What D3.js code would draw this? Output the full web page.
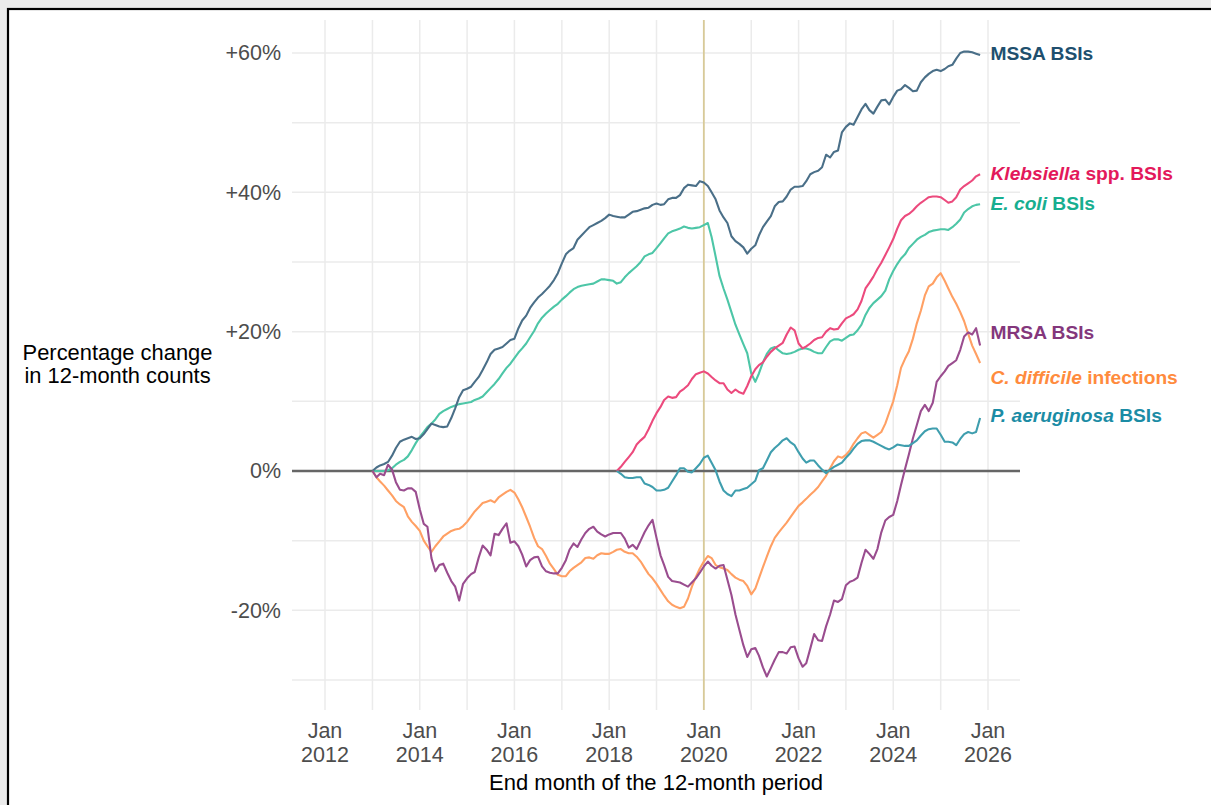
<!DOCTYPE html>
<html><head><meta charset="utf-8">
<script src="https://cdn.jsdelivr.net/npm/d3@7"></script>
<style>
html,body{margin:0;padding:0;background:#ebebeb;overflow:hidden;}
svg{display:block;font-family:"Liberation Sans",Arial,sans-serif;}
</style></head><body>
<svg id="chart" width="1211" height="805"></svg>
<script>
// ---------------- DATA ----------------
// Monthly percentage change in 12-month counts (end month of 12-month period)
const mssaStart = "2013-01";
const mssa = [0,0.5,0.8,1.0,1.3,2.2,3.3,4.2,4.5,4.7,
4.9,4.6,4.7,5.3,6.0,6.8,6.6,6.4,6.3,6.4,
7.6,9.0,10.6,11.6,11.8,12.1,12.8,13.5,14.5,15.6,
16.8,17.4,17.6,17.8,18.3,18.8,19.0,20.5,21.6,22.3,
23.4,24.2,24.9,25.4,26.0,26.6,27.4,28.4,29.8,31.1,
31.6,32.0,33.2,33.8,34.4,35.0,35.3,35.6,35.9,36.3,
36.8,36.6,36.5,36.4,36.4,36.8,37.2,37.3,37.5,37.7,
37.8,38.2,38.4,38.2,38.3,39.0,39.2,39.2,39.6,40.6,
41.1,41.0,40.9,41.6,41.4,40.9,40.0,39.0,37.4,36.4,
35.6,33.7,33.0,32.6,32.1,31.2,31.9,32.4,33.8,35.0,
35.8,36.6,38.0,38.6,38.7,39.4,40.4,40.8,40.8,40.9,
41.6,42.6,42.9,43.1,43.6,45.4,45.0,45.8,46.0,48.6,
49.4,49.9,49.7,50.8,51.9,52.7,51.8,51.3,52.3,53.2,
53.3,52.6,53.7,54.6,54.8,55.4,55.0,54.5,54.6,55.8,
56.5,57.0,57.4,57.6,57.4,57.7,58.1,58.3,59.2,60.0,
60.2,60.2,60.1,59.9,59.7];

const ecoliStart = "2013-01";
const ecoli = [0,0,0,0,0.1,0.4,0.9,1.3,1.6,2.1,
3.0,4.0,4.9,5.6,6.3,6.8,7.4,8.2,8.6,8.9,
9.2,9.4,9.6,9.7,9.8,9.9,10.2,10.4,10.7,11.3,
11.9,12.5,13.2,14.0,14.8,15.4,16.2,17.0,17.6,18.3,
19.2,20.1,21.2,22.0,22.6,23.1,23.6,24.0,24.6,25.1,
25.6,26.1,26.4,26.6,26.7,26.8,26.9,27.2,27.5,27.5,
27.4,27.3,26.9,27.1,27.8,28.4,28.9,29.4,30.0,30.8,
31.1,31.3,32.0,32.7,33.4,34.1,34.4,34.6,34.8,35.1,
34.9,34.8,34.9,35.0,35.3,35.6,33.6,30.8,28.0,26.2,
24.6,22.8,21.0,19.6,18.2,16.9,14.0,12.8,14.0,15.6,
16.8,17.6,17.8,17.3,16.9,16.8,16.9,17.1,17.4,17.6,
17.6,17.4,17.1,16.9,16.9,17.8,18.6,18.9,18.9,18.7,
19.1,19.5,19.6,20.2,21.0,22.4,23.4,24.1,24.6,25.1,
25.9,27.5,28.7,29.7,30.5,31.1,32.0,32.6,33.2,33.6,
33.9,34.3,34.5,34.6,34.7,34.7,34.6,35.0,35.5,36.1,
37.1,37.6,38.0,38.2,38.3];

const mrsaStart = "2013-01";
const mrsa = [0,-0.9,-0.4,-0.6,0.9,0.2,-1.6,-2.7,-2.8,-2.5,
-2.5,-3.0,-5.5,-7.6,-8.0,-12.5,-14.4,-13.5,-13.3,-14.6,
-15.8,-16.6,-18.6,-16.2,-15.4,-14.8,-14.5,-12.4,-10.7,-11.3,
-12.1,-9.0,-9.2,-8.3,-7.5,-10.3,-10.1,-10.8,-12.0,-13.7,
-12.8,-12.4,-12.3,-13.7,-14.4,-14.6,-14.7,-14.7,-13.9,-12.8,
-11.3,-10.4,-10.9,-9.8,-8.9,-8.3,-8.0,-8.7,-9.1,-9.4,
-9.1,-8.9,-8.9,-8.9,-9.7,-11.0,-10.6,-11.2,-10.0,-8.8,
-7.8,-7.0,-9.6,-12.1,-13.5,-15.2,-15.8,-15.9,-16.0,-16.3,
-16.6,-16.0,-15.4,-14.6,-13.7,-13.0,-13.6,-14.0,-13.6,-13.5,
-15.6,-17.8,-20.6,-22.8,-25.0,-26.7,-25.6,-25.4,-26.5,-28.2,
-29.5,-28.3,-27.1,-26.0,-26.0,-26.2,-25.3,-25.2,-26.9,-28.1,
-27.6,-25.5,-23.4,-24.3,-24.4,-22.3,-20.6,-18.6,-18.8,-18.4,
-16.4,-15.9,-15.7,-15.3,-13.2,-11.3,-11.9,-12.6,-11.2,-8.8,
-7.1,-6.6,-6.3,-4.3,-2.0,0.3,2.4,4.7,6.6,8.6,
9.5,8.6,9.8,12.8,13.6,14.3,15.1,15.5,15.9,17.4,
19.3,19.9,19.6,20.5,18.0];

const cdiffStart = "2013-01";
const cdiff = [0,-0.9,-1.5,-2.1,-2.8,-3.5,-4.3,-4.8,-5.2,-6.5,
-7.3,-7.9,-8.6,-10.0,-10.8,-11.6,-10.8,-10.1,-9.4,-9.0,
-8.6,-8.4,-8.3,-7.9,-7.3,-6.5,-5.8,-5.2,-4.6,-4.4,
-4.2,-4.5,-3.8,-3.4,-3.0,-2.7,-3.1,-4.1,-5.2,-6.6,
-8.0,-9.6,-10.8,-11.2,-12.2,-13.3,-14.1,-14.9,-15.1,-15.1,
-14.4,-13.9,-13.5,-13.1,-12.5,-12.4,-12.6,-12.1,-11.8,-11.9,
-11.9,-11.6,-11.3,-11.2,-11.6,-11.8,-11.8,-12.3,-13.0,-13.9,
-14.8,-15.4,-16.2,-17.1,-17.9,-18.7,-19.2,-19.5,-19.7,-19.5,
-18.3,-16.6,-15.2,-14.0,-13.0,-12.2,-12.5,-13.5,-13.8,-14.0,
-14.2,-14.8,-15.3,-15.6,-15.8,-16.5,-17.7,-16.9,-15.4,-13.8,
-12.3,-10.8,-9.6,-8.8,-8.1,-7.4,-6.6,-5.8,-5.0,-4.5,
-4.0,-3.4,-2.9,-2.3,-1.5,-0.7,0.4,1.4,2.1,1.9,
2.3,3.0,3.9,4.7,5.4,5.6,5.2,4.8,5.2,5.6,
6.8,8.4,10.0,12.3,14.8,16.1,17.2,19.0,21.2,23.0,
25.2,26.5,26.9,27.8,28.4,27.3,26.2,25.0,24.0,22.8,
21.5,19.7,18.0,16.8,15.5];

const klebStart = "2018-03";
const kleb = [0,0.6,1.3,2.0,2.7,3.8,4.4,4.9,6.0,7.2,
8.3,9.2,10.2,10.7,10.5,10.6,11.4,11.8,12.3,13.2,
13.9,14.1,14.3,14.0,13.5,13.0,12.6,12.6,11.7,11.2,
11.7,11.3,11.1,12.2,13.6,14.6,15.2,15.6,16.4,17.1,
17.6,18.0,18.4,19.6,20.6,20.2,18.3,17.6,17.9,18.3,
18.8,19.1,19.2,20.0,20.5,20.3,20.4,21.2,21.9,22.2,
22.5,23.2,24.4,26.2,27.0,27.9,29.0,29.9,31.0,32.1,
33.3,34.8,36.0,36.6,36.9,37.4,38.0,38.5,38.9,39.3,
39.4,39.4,39.3,38.9,38.5,38.7,39.3,40.4,40.9,41.3,
41.7,42.3,42.6];

const paerStart = "2018-03";
const paer = [0,-0.4,-0.9,-1.0,-1.0,-0.9,-0.9,-1.8,-2.0,-2.3,
-2.8,-2.8,-2.7,-2.4,-1.5,-0.6,0.4,0.4,-0.1,-0.2,
0.4,1.0,1.9,2.2,1.2,0.1,-1.5,-2.8,-3.3,-3.6,
-2.8,-2.8,-2.6,-2.4,-1.9,-1.4,0.1,0.4,1.5,2.7,
3.3,3.8,4.4,4.7,4.1,3.7,2.7,1.8,1.2,1.5,
1.5,0.8,0.2,-0.3,0.2,0.6,0.9,1.2,1.9,2.5,
3.2,3.9,4.3,4.4,4.4,4.2,3.9,3.6,3.3,3.1,
3.4,3.8,3.7,3.6,3.6,4.0,4.4,5.1,5.7,6.0,
6.1,6.1,5.2,4.2,4.2,4.1,3.7,4.6,5.3,5.6,
5.4,5.6,7.6];

// label text parts [italic part, regular part] and label vertical position (value units)
const labelItalic = ["", "Klebsiella", "E. coli", "", "C. difficile", "P. aeruginosa"];
const labelPlain  = ["MSSA BSIs", " spp. BSIs", " BSIs", "MRSA BSIs", " infections", " BSIs"];
const labelValue  = [59.9, 42.8, 38.5, 19.9, 13.5, 8.0];

const yTicks = [-20, 0, 20, 40, 60];
const yGrid = [-30, -20, -10, 0, 10, 20, 30, 40, 50, 60];
const xTickYears = [2012, 2014, 2016, 2018, 2020, 2022, 2024, 2026];
const xGridYears = d3.range(2012, 2027);
const markerDate = "2020-01";

const yTitle = ["Percentage change", "in 12-month counts"];
const xTitle = "End month of the 12-month period";

// ---------------- STYLE ----------------
const lineColors = ["#4a6f88", "#ec4a7d", "#4dc6a7", "#9a4d8f", "#ffa064", "#3f9eae"];
const textColors = ["#204f6e", "#e3195b", "#17ae90", "#84377c", "#ff8b3d", "#1b8ca5"];

const parse = d3.timeParse("%Y-%m");
function build(start, vals) {
  const s = parse(start);
  return vals.map((v, i) => ({date: d3.timeMonth.offset(s, i), value: v}));
}
const series = [
  build(mssaStart, mssa), build(klebStart, kleb), build(ecoliStart, ecoli),
  build(mrsaStart, mrsa), build(cdiffStart, cdiff), build(paerStart, paer)
];
const drawOrder = [2, 0, 1, 4, 3, 5];

const svg = d3.select("#chart");
const panel = {left: 292, right: 1020, top: 20, bottom: 710};

// frame
svg.append("rect").attr("x", 8).attr("y", 9).attr("width", 1300).attr("height", 900)
  .attr("fill", "#fff").attr("stroke", "#000").attr("stroke-width", 2.2);

const x = d3.scaleTime().domain([new Date(2012, 0, 1), new Date(2026, 0, 1)]).range([325, 988]);
const y = d3.scaleLinear().domain([0, 60]).range([471, 53]);

const g = svg.append("g");
// grid
g.selectAll(".hg").data(yGrid).join("line")
  .attr("x1", panel.left).attr("x2", panel.right)
  .attr("y1", d => y(d)).attr("y2", d => y(d))
  .attr("stroke", "#ebebeb").attr("stroke-width", 1.5);
g.selectAll(".vg").data(xGridYears).join("line")
  .attr("x1", d => x(new Date(d, 0, 1))).attr("x2", d => x(new Date(d, 0, 1)))
  .attr("y1", panel.top).attr("y2", panel.bottom)
  .attr("stroke", "#ebebeb").attr("stroke-width", 1.5);

// marker line Jan 2020
g.append("line")
  .attr("x1", x(parse(markerDate))).attr("x2", x(parse(markerDate)))
  .attr("y1", panel.top).attr("y2", panel.bottom)
  .attr("stroke", "#d8ca98").attr("stroke-width", 1.8);

// zero line
g.append("line").attr("x1", panel.left).attr("x2", panel.right)
  .attr("y1", y(0)).attr("y2", y(0))
  .attr("stroke", "#666").attr("stroke-width", 2.6);

// series lines
const line = d3.line().x(d => x(d.date)).y(d => y(d.value));
drawOrder.forEach(i => {
  g.append("path").datum(series[i]).attr("d", line)
    .attr("fill", "none").attr("stroke", lineColors[i])
    .attr("stroke-width", 2.1).attr("stroke-linejoin", "round");
});

// y axis
const yAxis = d3.axisLeft(y).tickValues(yTicks).tickSize(0).tickPadding(11)
  .tickFormat(d => (d > 0 ? "+" : "") + d + "%");
const ya = svg.append("g").attr("transform", `translate(${panel.left},0)`).call(yAxis);
ya.select(".domain").remove();
ya.selectAll("text").attr("font-size", 21.5).attr("fill", "#4d4d4d")
  .attr("font-family", '"Liberation Sans",Arial,sans-serif');

// x axis labels
const xa = svg.append("g");
xTickYears.forEach(yr => {
  const t = xa.append("text").attr("x", x(new Date(yr, 0, 1))).attr("text-anchor", "middle")
    .attr("font-size", 21.5).attr("fill", "#4d4d4d");
  t.append("tspan").attr("x", x(new Date(yr, 0, 1))).attr("y", 738).text("Jan");
  t.append("tspan").attr("x", x(new Date(yr, 0, 1))).attr("y", 762).text(String(yr));
});

// axis titles
svg.append("text").attr("x", (panel.left + panel.right) / 2).attr("y", 790)
  .attr("text-anchor", "middle").attr("font-size", 22).attr("fill", "#000").text(xTitle);
const yt = svg.append("text").attr("text-anchor", "middle").attr("font-size", 21.9).attr("fill", "#000");
yTitle.forEach((s, i) => yt.append("tspan").attr("x", 117.5).attr("y", 360 + i * 23).text(s));

// series labels
labelValue.forEach((v, i) => {
  const t = svg.append("text").attr("x", 990.5).attr("y", y(v)).attr("dy", "0.35em")
    .attr("font-size", 19.2).attr("font-weight", "bold").attr("fill", textColors[i]);
  if (labelItalic[i]) t.append("tspan").attr("font-style", "italic").text(labelItalic[i]);
  t.append("tspan").text(labelPlain[i]);
});
</script></body></html>
